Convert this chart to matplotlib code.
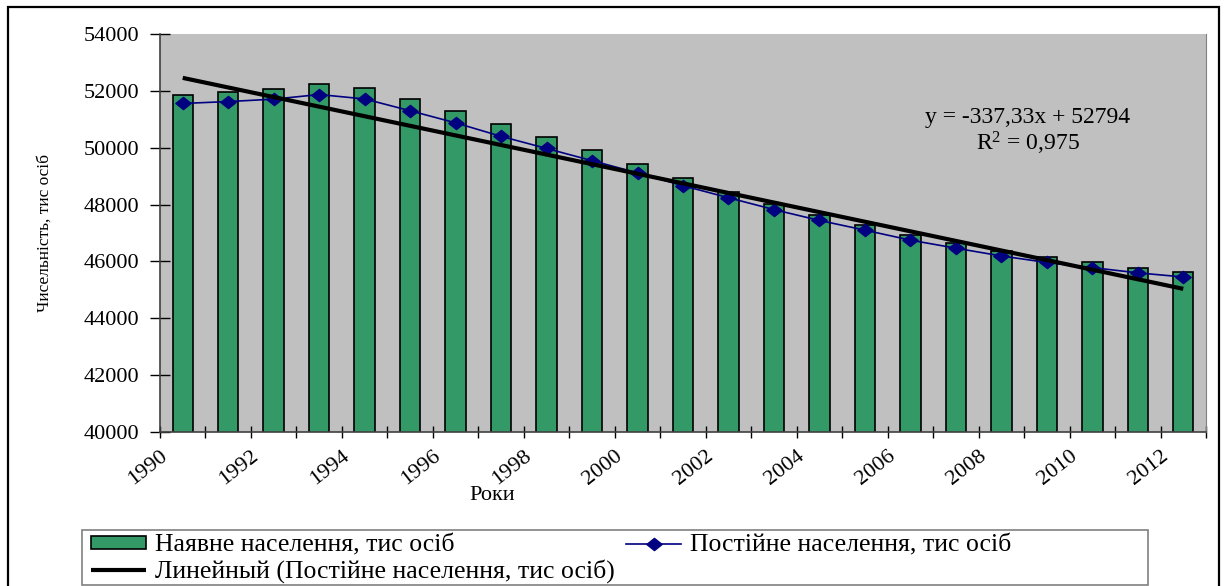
import numpy as np
import matplotlib
matplotlib.use('Agg')
import matplotlib.pyplot as plt
from matplotlib.patches import Rectangle
from matplotlib.path import Path

plt.rcParams['font.family'] = ['Liberation Serif', 'DejaVu Serif']
plt.rcParams['mathtext.fontset'] = 'custom'
plt.rcParams['mathtext.rm'] = 'Liberation Serif'
plt.rcParams['mathtext.it'] = 'Liberation Serif'

# data (тис осіб)
years = list(range(1990, 2013))
nayavne = [51838.5, 51944.4, 52056.6, 52244.1, 52114.4, 51728.4, 51297.1, 50818.4,
           50370.8, 49918.1, 49429.8, 48923.2, 48457.1, 48003.5, 47622.4, 47280.8,
           46929.5, 46646.0, 46372.7, 46143.7, 45962.9, 45778.5, 45633.6]
postiyne = [51556.5, 51623.5, 51708.2, 51870.4, 51715.4, 51300.4, 50874.1, 50400.0,
            49973.5, 49544.8, 49115.0, 48663.6, 48240.9, 47823.1, 47442.1, 47100.5,
            46749.2, 46465.7, 46192.3, 45963.4, 45782.6, 45598.2, 45453.3]
trend_slope = -337.33
trend_icpt = 52794
trend_r2 = '0,975'

x = np.arange(len(years)) + 0.5
n = np.arange(1, len(years) + 1)
trend = trend_icpt + trend_slope * n

W, H = 1224, 586
fig = plt.figure(figsize=(W / 100, H / 100), dpi=100)
ax = fig.add_axes([160 / W, 1 - 432 / H, (1206 - 160) / W, (432 - 34) / H])
ax.set_facecolor('#C0C0C0')

diamond = Path([(-1, 0), (0, 0.8), (1, 0), (0, -0.8), (-1, 0)],
               [Path.MOVETO, Path.LINETO, Path.LINETO, Path.LINETO, Path.CLOSEPOLY])

bars = ax.bar(x, nayavne, width=0.45, color='#339966', edgecolor='black', linewidth=1.2, zorder=2)
line, = ax.plot(x, postiyne, color='#000080', lw=1.2, marker=diamond, ms=11, zorder=3)
tline, = ax.plot(x, trend, color='black', lw=3, zorder=4, solid_capstyle='butt')

ax.set_xlim(0, len(years))
ax.set_ylim(40000, 54000)
ax.set_yticks(range(40000, 54001, 2000))
ax.set_xticks(range(0, len(years) + 1))
xlabels = [str(years[i]) if (i < len(years) and i % 2 == 0) else '' for i in range(len(years) + 1)]
ax.set_xticklabels(xlabels, rotation=38, ha='right', va='top', rotation_mode='anchor')
ax.tick_params(axis='x', direction='inout', length=9, width=1, pad=6, labelsize=16)
ax.tick_params(axis='y', direction='inout', length=14, width=1, pad=8, labelsize=16)
for s in ['left', 'bottom']:
    ax.spines[s].set_color('#404040')
    ax.spines[s].set_linewidth(1.2)
ax.spines['top'].set_visible(False)
ax.spines['right'].set_color('#808080')

fig.text(45 / W, 1 - 233 / H, 'Чисельність, тис осіб', rotation=90, ha='center', va='center', fontsize=12.5)
fig.text(492 / W, 1 - 496 / H, 'Роки', ha='center', va='center', fontsize=16)

fig.text(1028 / W, 1 - 117 / H, 'y = -337,33x + 52794', ha='center', va='center', fontsize=17)
fig.text(1028 / W, 1 - 143 / H, 'R$^2$ = ' + trend_r2, ha='center', va='center', fontsize=17)

# legend
fig.add_artist(Rectangle((82 / W, 1 - 585 / H), (1148 - 82) / W, (585 - 530) / H,
                         transform=fig.transFigure, fill=False, edgecolor='#808080', lw=1.2))
leg = fig.legend([bars, tline, line],
                 ['Наявне населення, тис осіб', 'Линейный (Постійне населення, тис осіб)',
                  'Постійне населення, тис осіб'],
                 ncol=2, loc='upper left', bbox_to_anchor=(88 / W, 1 - 532 / H),
                 frameon=False, fontsize=18.5, handlelength=2.15, handletextpad=0.35,
                 handleheight=0.42, labelspacing=0.1, columnspacing=0.45, borderpad=0.1,
                 borderaxespad=0)

# outer frame
fig.add_artist(Rectangle((8 / W, -0.05), (1219 - 8) / W, 1 - 7 / H + 0.05,
                         transform=fig.transFigure, fill=False, edgecolor='black', lw=1.6))

fig.savefig('out.png', dpi=100)
